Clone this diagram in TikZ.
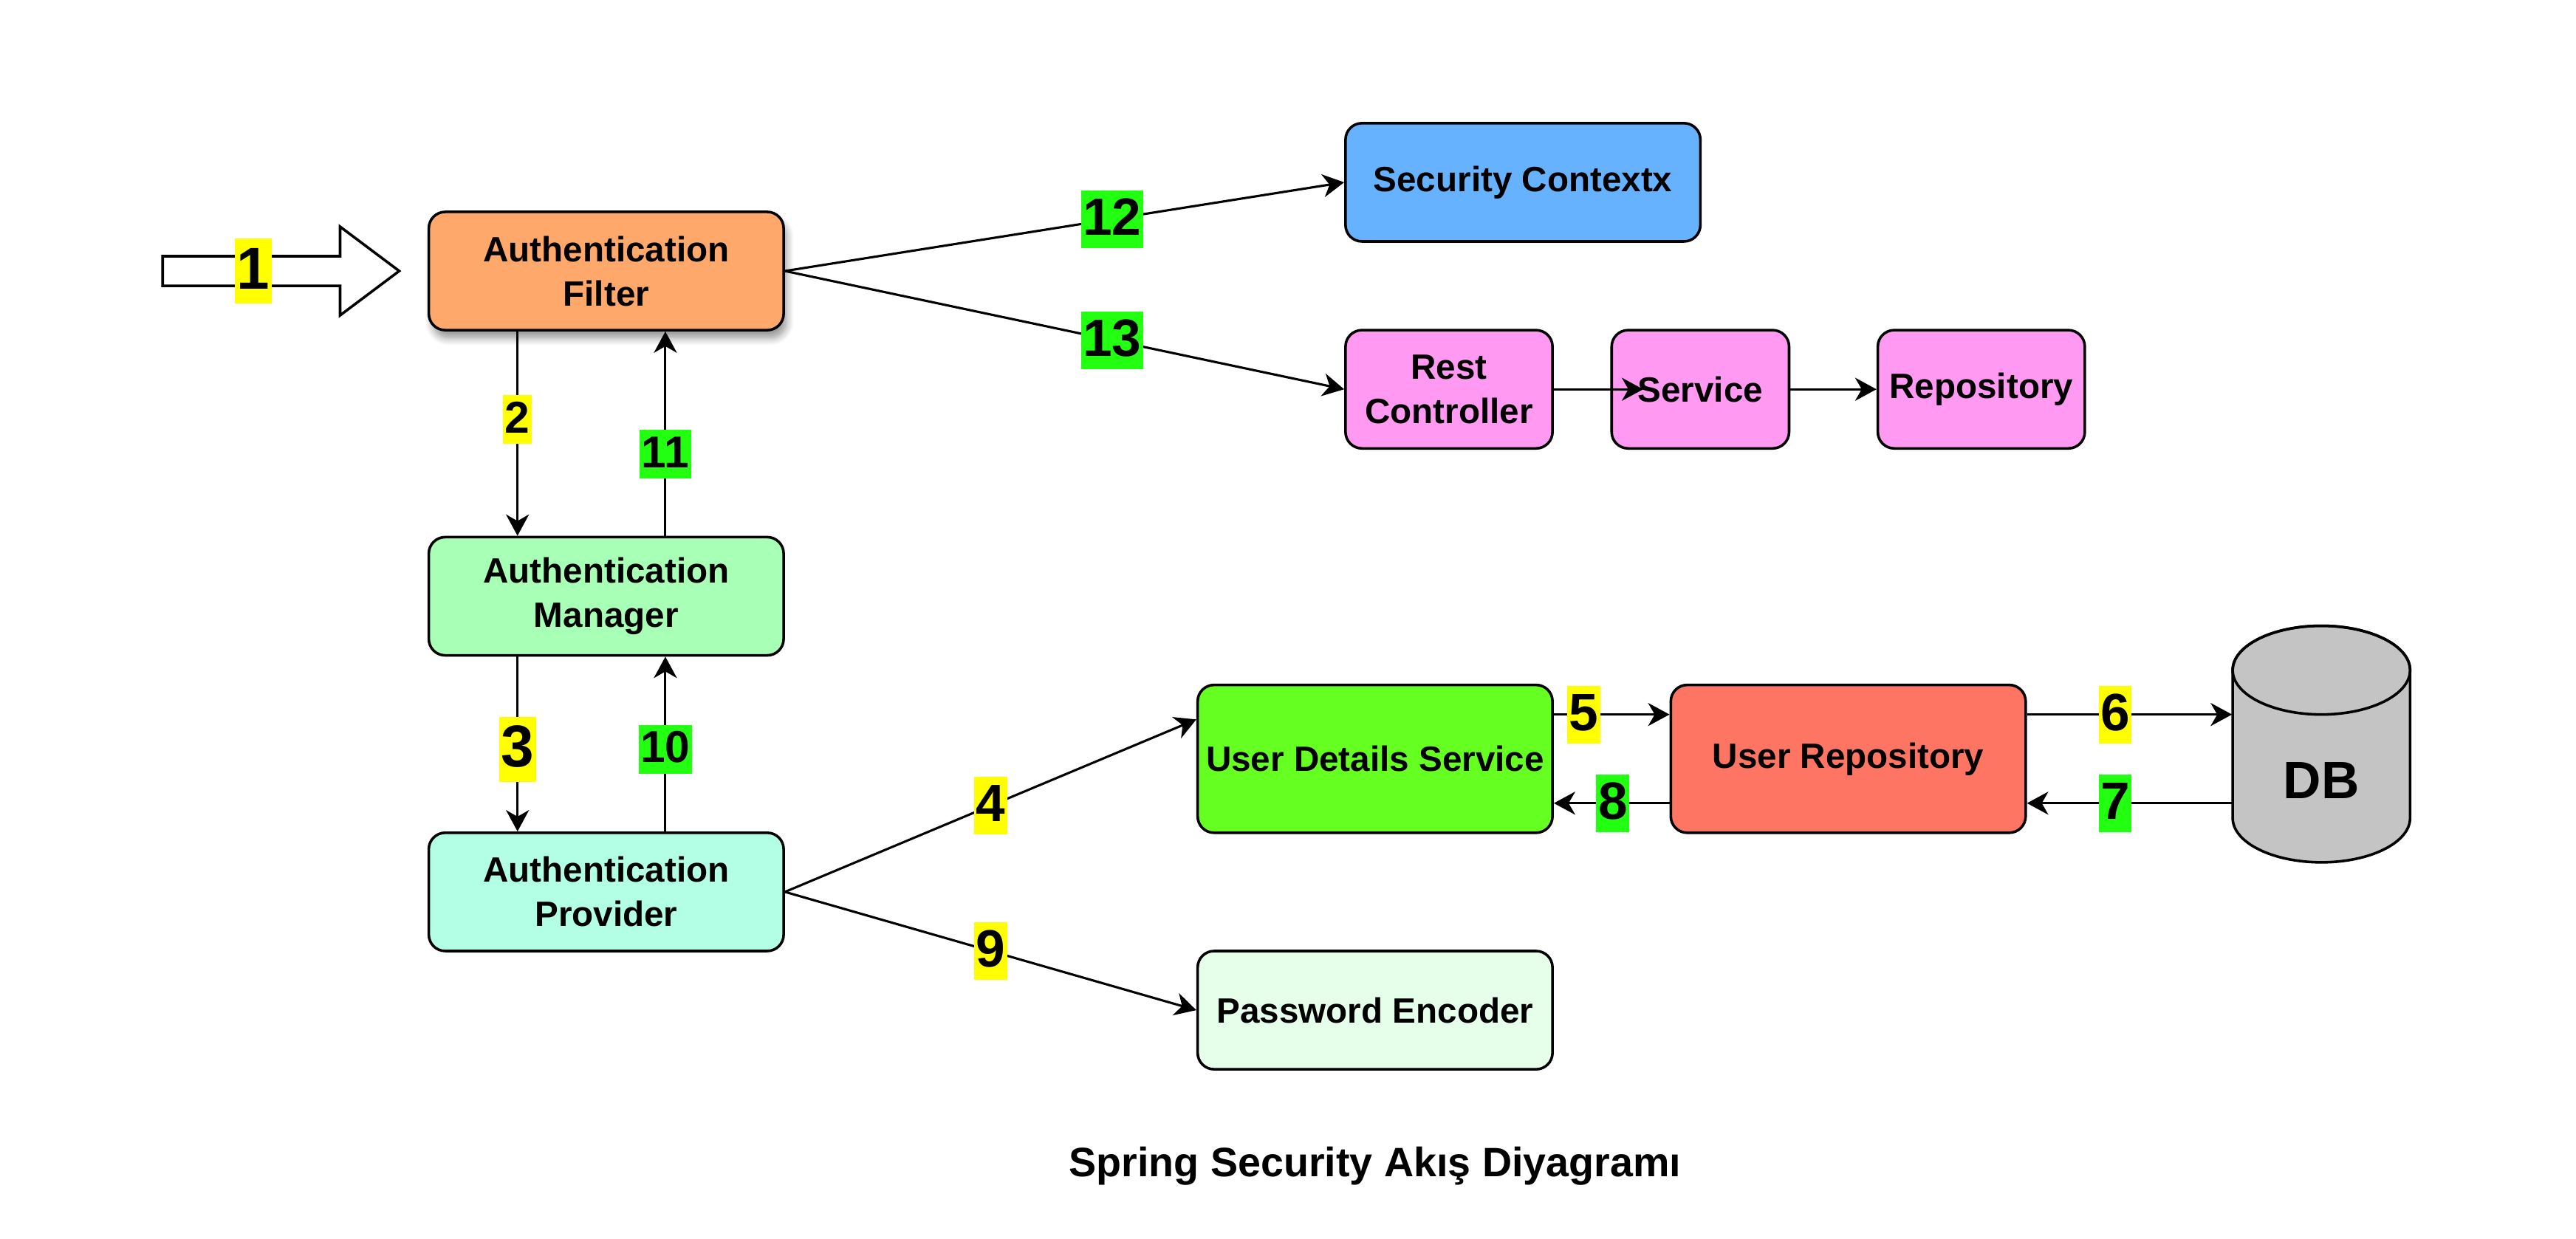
\documentclass[tikz,border=0pt]{standalone}
\usepackage{fontspec}
\setmainfont{Liberation Sans}
\usetikzlibrary{arrows.meta,shadows.blur}
\definecolor{filterc}{HTML}{FFA86B}
\definecolor{managerc}{HTML}{A8FFB6}
\definecolor{providerc}{HTML}{B3FFE6}
\definecolor{contextc}{HTML}{66B2FF}
\definecolor{pinkc}{HTML}{FF99F2}
\definecolor{udsc}{HTML}{66FF22}
\definecolor{urepoc}{HTML}{FF7563}
\definecolor{encoderc}{HTML}{E6FFEA}
\definecolor{dbc}{HTML}{C4C4C4}
\definecolor{yel}{HTML}{FFFF00}
\definecolor{grn}{HTML}{22FF10}
\begin{document}
\begin{tikzpicture}[x=0.5pt,y=-0.5pt,
    box/.style={draw,line width=0.8pt,rounded corners=5pt,align=center,inner sep=1pt,
      font=\fontsize{10.7}{13.5}\selectfont\bfseries,minimum width=108pt,minimum height=36pt},
    con/.style={line width=0.7pt,-{Stealth[length=6.5pt,width=7pt,inset=2pt]}},
    num/.style 2 args={fill=#1,inner xsep=0.6pt,inner ysep=0pt,text height={0.85*#2pt},
      text depth={0.25*#2pt},font=\fontsize{#2}{#2}\selectfont\bfseries}]
  \useasboundingbox (0,0) rectangle (1568,754);
  \node[box,fill=filterc,blur shadow={shadow xshift=1pt,shadow yshift=-2.5pt,shadow blur steps=6}] (filter) at (369,165) {Authentication\\Filter};
  \node[box,fill=managerc] (manager) at (369,363) {Authentication\\Manager};
  \node[box,fill=providerc] (provider) at (369,543) {Authentication\\Provider};
  \node[box,fill=contextc] (context) at (927,111) {Security Contextx};
  \node[box,fill=pinkc,minimum width=63pt] (rest) at (882,237) {Rest\\Controller};
  \node[box,fill=pinkc,minimum width=54pt] (service) at (1035,237) {Service};
  \node[box,fill=pinkc,minimum width=63pt] (repo) at (1206,237) {Repository};
  \node[box,fill=udsc,minimum height=45pt] (uds) at (837,462) {User Details Service};
  \node[box,fill=urepoc,minimum height=45pt] (urepo) at (1125,462) {User Repository};
  \node[box,fill=encoderc] (encoder) at (837,615) {Password Encoder};
  \draw[line width=0.8pt,fill=dbc] (1359,408) -- (1359,498) arc[start angle=180,end angle=360,x radius=27pt,y radius=13.5pt]
    -- (1467,408) arc[start angle=0,end angle=180,x radius=27pt,y radius=13.5pt] -- cycle;
  \draw[line width=0.8pt] (1413,408) ellipse[x radius=27pt,y radius=13.5pt];
  \node[font=\fontsize{16}{16}\selectfont\bfseries,minimum width=54pt,inner sep=0pt] (db) at (1413,475) {DB};
  \draw[line width=0.8pt,fill=white] (99,156) -- (207,156) -- (207,138) -- (243,165) -- (207,192) -- (207,174) -- (99,174) -- cycle;
  \node[num={yel}{18}] (one) at (154,165) {1};
  \draw[con] ([xshift=-27pt]filter.south) -- node[pos=0.43,num={yel}{13.6}] {2} ([xshift=-27pt]manager.north);
  \draw[con] ([xshift=18pt]manager.north) -- node[pos=0.4,num={grn}{13.6}] {11} ([xshift=18pt]filter.south);
  \draw[con] ([xshift=-27pt]manager.south) -- node[pos=0.53,num={yel}{18}] {3} ([xshift=-27pt]provider.north);
  \draw[con] ([xshift=18pt]provider.north) -- node[pos=0.47,num={grn}{13.6}] {10} ([xshift=18pt]manager.south);
  \draw[con] (filter.east) -- node[pos=0.585,num={grn}{16}] {12} (context.west);
  \draw[con] (filter.east) -- node[pos=0.585,num={grn}{16}] {13} (rest.west);
  \draw[con] (rest.east) -- ([xshift=10pt]service.west);
  \draw[con] (service.east) -- (repo.west);
  \draw[con] (provider.east) -- node[num={yel}{16}] {4} ([yshift=12pt]uds.west);
  \draw[con] (provider.east) -- node[num={yel}{16}] {9} (encoder.west);
  \draw[con] ([yshift=13.5pt]uds.east) -- node[pos=0.26,num={yel}{16}] {5} ([yshift=13.5pt]urepo.west);
  \draw[con] ([yshift=-13.5pt]urepo.west) -- node[pos=0.49,num={grn}{16}] {8} ([yshift=-13.5pt]uds.east);
  \draw[con] ([yshift=13.5pt]urepo.east) -- node[pos=0.43,num={yel}{16}] {6} ([yshift=13.5pt]urepo.east -| db.west);
  \draw[con] ([yshift=-13.5pt]urepo.east -| db.west) -- node[pos=0.57,num={grn}{16}] {7} ([yshift=-13.5pt]urepo.east);
  \node[font=\fontsize{12.5}{15}\selectfont\bfseries] (title) at (837,710) {Spring Security Akış Diyagramı};
\end{tikzpicture}
\end{document}
